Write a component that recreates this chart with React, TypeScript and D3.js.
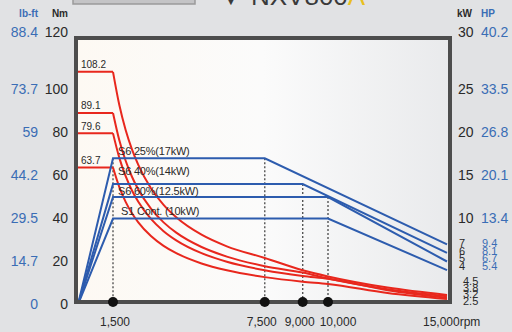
import React from "react";
import * as d3 from "d3";

// ---- data ----
const RPM = [0, 1500, 1750, 2000, 2250, 2500, 3000, 3500, 4000, 5000, 6000, 7500, 9000, 10000, 12500, 15000];
const torqueS6_25 = [108.2, 108.2, 92.76, 81.17, 72.15, 64.93, 54.11, 46.38, 40.58, 32.47, 27.06, 21.64, 15.92, 13.05, 7.89, 4.46];
const torqueS6_40 = [89.1, 89.1, 76.39, 66.84, 59.42, 53.47, 44.56, 38.2, 33.42, 26.74, 22.28, 17.82, 14.85, 12.1, 7.13, 3.82];
const torqueS6_60 = [79.6, 79.6, 68.21, 59.68, 53.05, 47.75, 39.79, 34.1, 29.84, 23.87, 19.89, 15.92, 13.26, 11.94, 6.68, 3.18];
const torqueS1 = [63.7, 63.7, 54.57, 47.75, 42.44, 38.2, 31.83, 27.28, 23.87, 19.1, 15.92, 12.73, 10.61, 9.55, 5.35, 2.55];
const torqueSeries = [torqueS6_25, torqueS6_40, torqueS6_60, torqueS1];
const torqueLabels = ["108.2", "89.1", "79.6", "63.7"];

const powerRpm = [
  [0, 1500, 7500, 15000],
  [0, 1500, 9000, 15000],
  [0, 1500, 10000, 15000],
  [0, 1500, 10000, 15000],
];
const powerKw = [
  [0, 17, 17, 7],
  [0, 14, 14, 6],
  [0, 12.5, 12.5, 5],
  [0, 10, 10, 4],
];
const powerLabels = ["S6 25%(17kW)", "S6 40%(14kW)", "S6 60%(12.5kW)", "S1 Cont. (10kW)"];

const nmTicks = [0, 20, 40, 60, 80, 100, 120];
const lbftTicks = ["0", "14.7", "29.5", "44.2", "59", "73.7", "88.4"];
const kwTicks = [10, 15, 20, 25, 30];
const hpTicks = ["13.4", "20.1", "26.8", "33.5", "40.2"];
const endKw = ["7", "6", "5", "4"];
const endHp = ["9.4", "8.1", "6.7", "5.4"];
const endNm = ["4.5", "3.8", "3.2", "2.5"];
const endNmVals = [4.5, 3.8, 3.2, 2.5];
const endKwVals = [7, 6, 5, 4];
const rpmTicks = [1500, 7500, 9000, 10000];
const rpmTickLabels = ["1,500", "7,500", "9,000", "10,000"];
const dropKw = [17, 17, 14, 12.5];

// ---- layout ----
const W = 512, H = 332;
const FRAME = { l: 76, r: 450, t: 38, b: 302 };
const x = d3.scaleLinear().domain([0, 1500, 10000, 15000]).range([78, 113, 328, 447]);
const yNm = d3.scaleLinear().domain([0, 120]).range([304.5, 46.5]);
const yKw = d3.scaleLinear().domain([0, 30]).range([304.5, 46.5]);

const RED = "#e8271d";
const BLUE = "#2d5cae";
const LBLUE = "#3a6db5";
const TXT = "#2a2a2a";
const FONT = "'Liberation Sans', Arial, sans-serif";
const labelDy = [-3, -9, -2.5, -3.5];
const labelX = [118, 118, 118, 121];
const xLabelDx = [2, -3, -3, 10];
const END_NM_STEP = 6.8;

export default function App() {
  const flat = d3.line<number>().x((_, i) => x(RPM[i])).y((d) => yNm(d));
  const curve = d3
    .line<[number, number]>()
    .x((d) => x(d[0]))
    .y((d) => yNm(d[1]))
    .curve(d3.curveMonotoneX);
  const pline = d3
    .line<[number, number]>()
    .x((d) => x(d[0]))
    .y((d) => yKw(d[1]));

  return (
    <svg width={W} height={H} style={{ position: "absolute", left: 0, top: 0 }} fontFamily={FONT}>
      <defs>
        <linearGradient id="bg" x1="0" x2="1" y1="0" y2="0">
          <stop offset="0" stopColor="#fdf9f3" />
          <stop offset="0.5" stopColor="#fbfbfb" />
          <stop offset="1" stopColor="#e9eaec" />
        </linearGradient>
        <clipPath id="clip">
          <rect x={FRAME.l} y={FRAME.t} width={FRAME.r - FRAME.l} height={FRAME.b - FRAME.t} />
        </clipPath>
      </defs>
      <rect width={W} height={H} fill="#e1e2e4" />
      {/* cropped title */}
      <rect x={73} y={-4} width={122} height={8} fill="#c4c4c6" stroke="#9a9a9a" strokeWidth={1.5} />
      <text x={218} y={5} fontSize={26} fill="#3a3a3a">
        ▼ NXV800<tspan fill="#e8c020">A</tspan>
      </text>

      <rect x={FRAME.l} y={FRAME.t} width={FRAME.r - FRAME.l} height={FRAME.b - FRAME.t} fill="url(#bg)" />

      {/* drop lines */}
      {rpmTicks.map((r, i) => (
        <line key={i} x1={x(r)} x2={x(r)} y1={yKw(dropKw[i])} y2={FRAME.b} stroke="#555" strokeWidth={1.4} strokeDasharray="2,2" />
      ))}

      <g clipPath="url(#clip)">
        {torqueSeries.map((s, k) => (
          <g key={k}>
            <path d={flat(s.slice(0, 2)) || ""} fill="none" stroke={RED} strokeWidth={2} />
            <path
              d={curve(s.slice(1).map((v, i) => [RPM[i + 1], v] as [number, number])) || ""}
              fill="none"
              stroke={RED}
              strokeWidth={2}
            />
          </g>
        ))}
        {powerKw.map((s, k) => (
          <path
            key={k}
            d={pline(s.map((v, i) => [powerRpm[k][i], v] as [number, number])) || ""}
            fill="none"
            stroke={BLUE}
            strokeWidth={2}
          />
        ))}
      </g>

      {torqueLabels.map((t, k) => (
        <text key={k} x={81} y={yNm(torqueSeries[k][0]) - 3.5} fontSize={10} fill={TXT}>
          {t}
        </text>
      ))}
      {powerLabels.map((t, k) => (
        <text key={k} x={labelX[k]} y={yKw(powerKw[k][1]) + labelDy[k]} fontSize={11} fill={TXT} letterSpacing={-0.2}>
          {t}
        </text>
      ))}

      {/* frame */}
      <rect x={FRAME.l} y={FRAME.t} width={FRAME.r - FRAME.l} height={FRAME.b - FRAME.t} fill="none" stroke="#4d4d4d" strokeWidth={4} />

      {rpmTicks.map((r, i) => (
        <circle key={i} cx={x(r)} cy={FRAME.b} r={5} fill="#111" />
      ))}

      {/* left axes */}
      <text x={38} y={17} fontSize={10} fontWeight="bold" fill={LBLUE} textAnchor="end">lb-ft</text>
      <text x={68} y={17} fontSize={10} fontWeight="bold" fill={TXT} textAnchor="end">Nm</text>
      {nmTicks.map((v, i) => (
        <g key={v}>
          <text x={68} y={yNm(v) + (v === 120 ? -10 : 4.5)} fontSize={14} fill={TXT} textAnchor="end">
            {v}
          </text>
          <text x={38} y={yNm(v) + (v === 120 ? -10 : 4.5)} fontSize={14} fill={LBLUE} textAnchor="end">
            {lbftTicks[i]}
          </text>
        </g>
      ))}

      {/* right axes */}
      <text x={457} y={17} fontSize={10} fontWeight="bold" fill={TXT}>kW</text>
      <text x={481} y={17} fontSize={10} fontWeight="bold" fill={LBLUE}>HP</text>
      {kwTicks.map((v, i) => (
        <g key={v}>
          <text x={458} y={yKw(v) + (v === 30 ? -10 : 4.5)} fontSize={14} fill={TXT}>
            {v}
          </text>
          <text x={481} y={yKw(v) + (v === 30 ? -10 : 4.5)} fontSize={14} fill={LBLUE}>
            {hpTicks[i]}
          </text>
        </g>
      ))}
      {endKw.map((t, i) => (
        <g key={t}>
          <text x={459} y={yKw(endKwVals[0]) + 3 + i * 7.5} fontSize={11} fill={TXT}>{t}</text>
          <text x={482} y={yKw(endKwVals[0]) + 3 + i * 7.5} fontSize={11} fill={LBLUE}>{endHp[i]}</text>
        </g>
      ))}
      {endNm.map((t, i) => (
        <text key={t} x={463} y={yNm(endNmVals[0]) - 10 + i * END_NM_STEP} fontSize={11} fill={TXT}>
          {t}
        </text>
      ))}

      {/* x labels */}
      {rpmTicks.map((r, i) => (
        <text key={r} x={x(r) + xLabelDx[i]} y={326} fontSize={12} fill={TXT} textAnchor="middle">
          {rpmTickLabels[i]}
        </text>
      ))}
      <text x={423} y={326} fontSize={12} fill={TXT}>
        15,000rpm
      </text>
    </svg>
  );
}
